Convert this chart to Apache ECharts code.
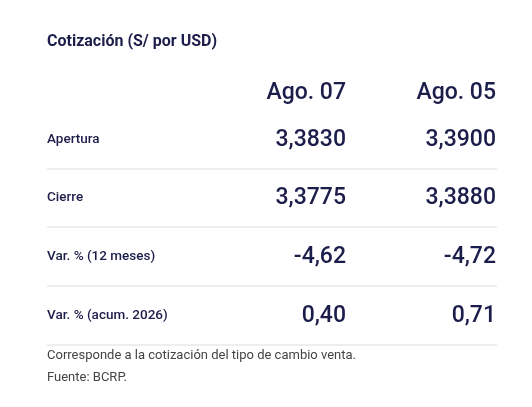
<!DOCTYPE html>
<html><head><meta charset="utf-8">
<script src="https://cdn.jsdelivr.net/npm/echarts@6/dist/echarts.min.js"></script>
<style>html,body{margin:0;padding:0;background:#fff}#c{width:532px;height:407px}</style>
</head><body><div id="c"></div>
<script>
const title = 'Cotización (S/ por USD)';
const columns = ['Ago. 07', 'Ago. 05'];
const rowLabels = ['Apertura', 'Cierre', 'Var. % (12 meses)', 'Var. % (acum. 2026)'];
const col1 = ['3,3830', '3,3775', '-4,62', '0,40'];
const col2 = ['3,3900', '3,3880', '-4,72', '0,71'];
const notes = ['Corresponde a la cotización del tipo de cambio venta.', 'Fuente: BCRP.'];

const ink = '#1b1d4a', font = 'Roboto';
const g = [];
g.push({type:'text', x:47, y:42, style:{text:title, fill:ink, font:'bold 16px '+font, verticalAlign:'middle'}});
const colX = [346, 496];
columns.forEach((c,i)=>g.push({type:'text', x:colX[i], y:93, style:{text:c, fill:ink, font:'500 23px '+font, align:'right', verticalAlign:'middle'}}));
const rowY = [140, 198, 257, 316];
rowLabels.forEach((r,i)=>{
  g.push({type:'text', x:47, y:rowY[i], style:{text:r, fill:ink, font:'500 13.5px '+font, verticalAlign:'middle'}});
  [col1, col2].forEach((col,j)=>g.push({type:'text', x:colX[j], y:rowY[i], style:{text:col[i], fill:ink, font:'500 23px '+font, align:'right', verticalAlign:'middle'}}));
  g.push({type:'line', shape:{x1:47, y1:rowY[i]+29, x2:497, y2:rowY[i]+29}, style:{stroke:'#dcdcdc', lineWidth:1}});
});
notes.forEach((n,i)=>g.push({type:'text', x:47, y:356+i*22, style:{text:n, fill:'#444', font:'13px '+font, verticalAlign:'middle'}}));

const chart = echarts.init(document.getElementById('c'));
chart.setOption({backgroundColor:'#fff', graphic:g});
</script></body></html>
